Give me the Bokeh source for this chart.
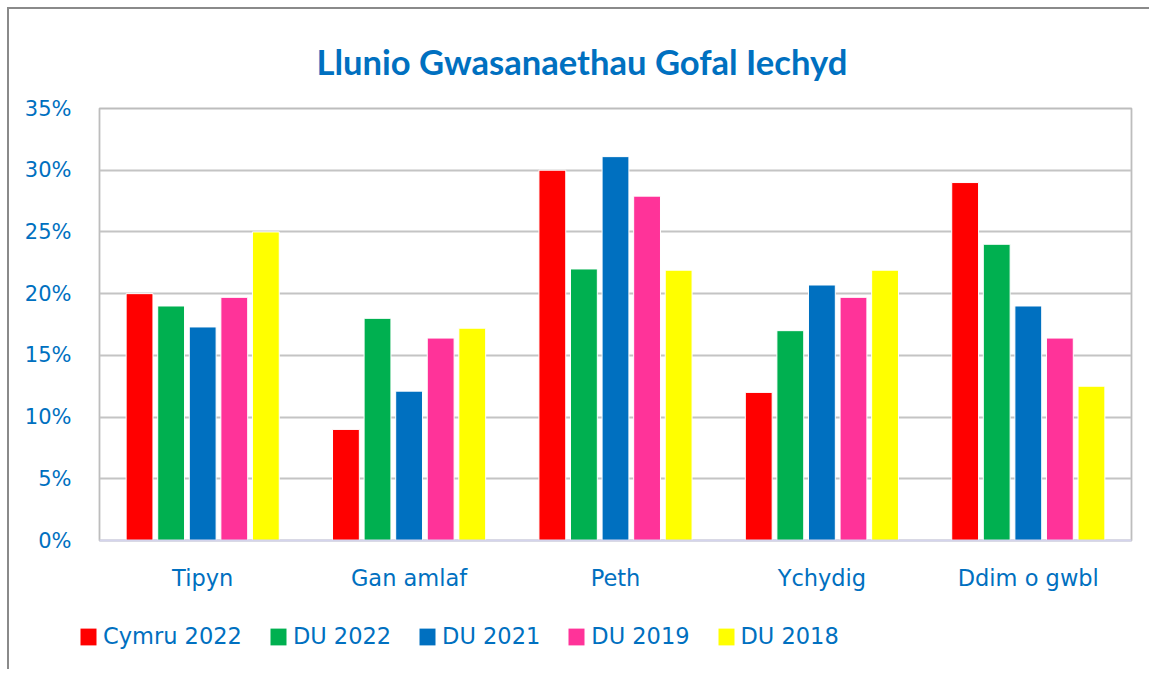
from bokeh.plotting import figure
from bokeh.layouts import column
from bokeh.models import (FactorRange, Range1d, NumeralTickFormatter, Legend, LegendItem,
                          Label, ColumnDataSource, FixedTicker)
from bokeh.transform import dodge
from bokeh.embed import file_html
from bokeh.resources import INLINE

categories = ["Tipyn", "Gan amlaf", "Peth", "Ychydig", "Ddim o gwbl"]
series_names = ["Cymru 2022", "DU 2022", "DU 2021", "DU 2019", "DU 2018"]
cymru_2022 = [0.20, 0.09, 0.30, 0.12, 0.29]
du_2022 = [0.19, 0.18, 0.22, 0.17, 0.24]
du_2021 = [0.173, 0.121, 0.311, 0.207, 0.19]
du_2019 = [0.197, 0.164, 0.279, 0.197, 0.164]
du_2018 = [0.25, 0.172, 0.219, 0.219, 0.125]
colors = ["#FF0000", "#00B050", "#0070C0", "#FF3399", "#FFFF00"]
y_ticks = [0, 0.05, 0.10, 0.15, 0.20, 0.25, 0.30, 0.35]
title_text = "Llunio Gwasanaethau Gofal Iechyd"

text_color = "#0070C0"
label_font = "DejaVu Sans"


def strip(height, left=0, top=0):
    f = figure(width=1140, height=height, output_backend="svg", toolbar_location=None,
               x_axis_type=None, y_axis_type=None, min_border=0,
               min_border_left=left, min_border_top=top,
               x_range=Range1d(0, 1), y_range=Range1d(0, 1))
    f.outline_line_color = None
    f.xgrid.grid_line_color = None
    f.ygrid.grid_line_color = None
    return f


# title strip
tf = strip(85)
tf.add_layout(Label(x=307, y=33, x_units="screen", y_units="screen", text=title_text,
                    text_align="left", text_baseline="alphabetic", text_color=text_color,
                    text_font="Lato", text_font_style="bold", text_font_size="34.6px"))

# main chart
src = ColumnDataSource(dict(cat=categories, s0=cymru_2022, s1=du_2022, s2=du_2021,
                            s3=du_2019, s4=du_2018))

p = figure(x_range=FactorRange(factors=categories), y_range=Range1d(0, 0.35),
           width=1140, height=515, output_backend="svg", toolbar_location=None,
           min_border_left=90, min_border_right=18, min_border_top=14, min_border_bottom=69)

offsets = [-0.306, -0.153, 0.0, 0.153, 0.306]
for i, (name, col) in enumerate(zip(series_names, colors)):
    p.vbar(x=dodge("cat", offsets[i], range=p.x_range), top="s%d" % i, width=0.13,
           source=src, fill_color=col, line_color="white", line_width=1)

p.xgrid.grid_line_color = None
p.ygrid.grid_line_color = "#c4c4c4"
p.ygrid.grid_line_width = 1.8
p.outline_line_color = "#bdbdbd"
p.outline_line_width = 1.8

p.yaxis.ticker = FixedTicker(ticks=y_ticks)
p.yaxis.formatter = NumeralTickFormatter(format="0%")
p.yaxis.axis_line_color = None
p.yaxis.major_tick_line_color = None
p.yaxis.minor_tick_line_color = None
p.yaxis.major_tick_out = 0
p.yaxis.major_label_standoff = 28
p.yaxis.major_label_text_color = text_color
p.yaxis.major_label_text_font = label_font
p.yaxis.major_label_text_font_size = "21px"

p.xaxis.axis_line_color = "#d4d4ec"
p.xaxis.axis_line_width = 2
p.xaxis.major_tick_line_color = None
p.xaxis.major_tick_out = 0
p.xaxis.major_label_standoff = 24
p.xaxis.major_label_text_color = text_color
p.xaxis.major_label_text_font = label_font
p.xaxis.major_label_text_font_size = "22.5px"

# legend strip (swatches use the same series colours)
lf = strip(60, left=69, top=14)
lrs = []
for name, col in zip(series_names, colors):
    lrs.append(lf.vbar(x=[0.5], top=[0], bottom=[0], width=0.0, fill_color=col, line_color=None))
legend = Legend(items=[LegendItem(label=n, renderers=[r]) for n, r in zip(series_names, lrs)],
                orientation="horizontal", location="top_left", margin=0, padding=0,
                spacing=26, label_standoff=5, glyph_width=20, glyph_height=21,
                border_line_color=None, background_fill_alpha=0,
                label_text_color=text_color, label_text_font=label_font,
                label_text_font_size="22.5px")
lf.add_layout(legend, "center")

layout = column(column(tf, spacing=0), p, column(lf, spacing=0), spacing=0, margin=(7, 0, 0, 7),
                styles={"border-left": "2px solid #8a8a8a", "border-top": "2px solid #8a8a8a"})

open("out.html", "w").write(file_html(layout, INLINE))
